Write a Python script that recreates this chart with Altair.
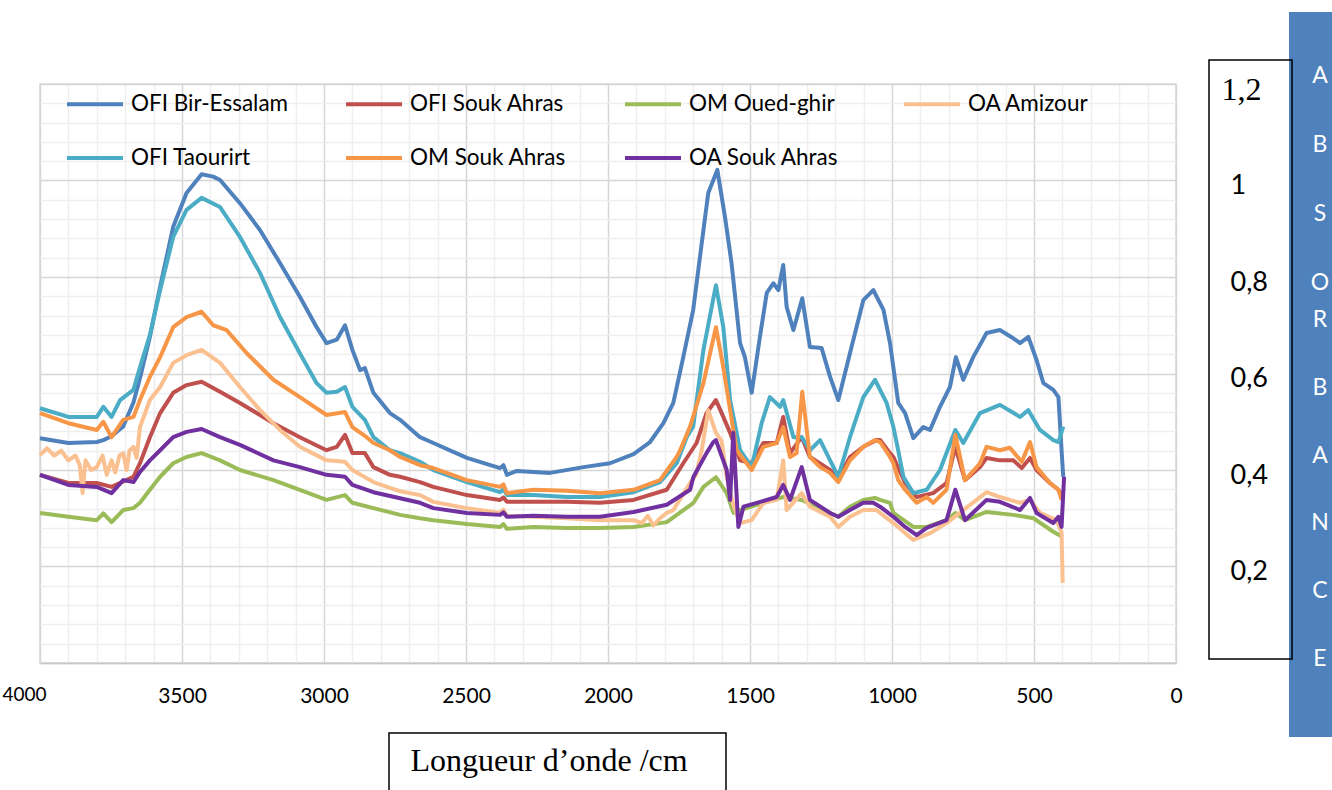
import altair as alt
import pandas as pd

SERIES = ["OFI Bir-Essalam", "OFI Souk Ahras", "OM Oued-ghir", "OA Amizour",
          "OFI Taourirt", "OM Souk Ahras", "OA Souk Ahras"]
COLORS = ["#4F81BD", "#C0504D", "#9BBB59", "#FAC090", "#4BACC6", "#F79646", "#7030A0"]

# (wavenumber cm-1, absorbance)
OFI_BIR_ESSALAM = [
    (4000, 0.466), (3900, 0.456), (3800, 0.458), (3777, 0.462), (3748, 0.47), (3707, 0.49), (3671, 0.54),
    (3648, 0.59), (3613, 0.676), (3577, 0.78), (3531, 0.904), (3484, 0.974), (3431, 1.013), (3390, 1.008),
    (3366, 1.001), (3296, 0.953), (3225, 0.897), (3155, 0.829), (3085, 0.759), (3026, 0.696), (2991, 0.663),
    (2955, 0.670), (2926, 0.70), (2900, 0.649), (2873, 0.607), (2856, 0.611), (2826, 0.56), (2768, 0.518),
    (2732, 0.504), (2662, 0.468), (2615, 0.456), (2497, 0.425), (2380, 0.404), (2368, 0.41), (2356, 0.39),
    (2321, 0.398), (2204, 0.394), (2086, 0.406), (1993, 0.414), (1910, 0.433), (1852, 0.458), (1805, 0.497),
    (1770, 0.539), (1735, 0.634), (1700, 0.732), (1670, 0.870), (1647, 0.974), (1615, 1.022), (1588, 0.924),
    (1565, 0.829), (1535, 0.663), (1518, 0.634), (1494, 0.560), (1465, 0.676), (1441, 0.767), (1418, 0.787),
    (1400, 0.773), (1383, 0.825), (1371, 0.738), (1347, 0.690), (1316, 0.756), (1289, 0.655), (1248, 0.653),
    (1218, 0.593), (1189, 0.545), (1148, 0.642), (1101, 0.752), (1066, 0.773), (1030, 0.732), (1007, 0.663),
    (978, 0.539), (954, 0.518), (925, 0.466), (890, 0.489), (866, 0.483), (831, 0.531), (796, 0.572),
    (775, 0.634), (749, 0.587), (714, 0.634), (667, 0.684), (620, 0.690), (573, 0.673), (549, 0.663),
    (520, 0.676), (491, 0.628), (467, 0.580), (432, 0.566), (414, 0.551), (403, 0.441), (397, 0.386),
]
OFI_SOUK_AHRAS = [
    (4000, 0.39), (3900, 0.373), (3800, 0.373), (3748, 0.365), (3671, 0.386), (3648, 0.414), (3613, 0.468),
    (3577, 0.518), (3531, 0.56), (3484, 0.576), (3431, 0.583), (3366, 0.562), (3296, 0.539), (3178, 0.497),
    (3085, 0.468), (2991, 0.441), (2955, 0.448), (2926, 0.473), (2900, 0.435), (2856, 0.435), (2826, 0.406),
    (2768, 0.39), (2732, 0.386), (2662, 0.375), (2615, 0.365), (2497, 0.348), (2380, 0.338), (2368, 0.343),
    (2356, 0.334), (2263, 0.334), (2145, 0.334), (2028, 0.332), (1910, 0.338), (1793, 0.359), (1735, 0.414),
    (1688, 0.456), (1653, 0.518), (1620, 0.545), (1594, 0.51), (1570, 0.477), (1535, 0.42), (1494, 0.414),
    (1453, 0.456), (1406, 0.456), (1383, 0.51), (1359, 0.435), (1318, 0.468), (1289, 0.427), (1218, 0.40),
    (1189, 0.383), (1148, 0.427), (1101, 0.448), (1054, 0.462), (1042, 0.462), (1007, 0.435), (995, 0.427),
    (954, 0.373), (913, 0.344), (855, 0.352), (808, 0.373), (777, 0.448), (743, 0.379), (690, 0.406),
    (667, 0.425), (620, 0.42), (573, 0.42), (543, 0.404), (514, 0.425), (491, 0.40), (444, 0.373),
    (414, 0.359), (397, 0.344),
]
OM_OUED_GHIR = [
    (4000, 0.311), (3900, 0.303), (3800, 0.296), (3777, 0.31), (3748, 0.292), (3707, 0.317), (3671, 0.321),
    (3648, 0.332), (3613, 0.359), (3577, 0.386), (3531, 0.414), (3484, 0.427), (3431, 0.435), (3366, 0.42),
    (3296, 0.40), (3178, 0.379), (3085, 0.359), (2991, 0.338), (2926, 0.348), (2900, 0.332), (2826, 0.321),
    (2732, 0.307), (2662, 0.30), (2615, 0.296), (2497, 0.288), (2380, 0.282), (2368, 0.288), (2356, 0.278),
    (2263, 0.282), (2145, 0.28), (2028, 0.28), (1910, 0.282), (1793, 0.292), (1699, 0.332), (1664, 0.365),
    (1620, 0.385), (1582, 0.352), (1558, 0.311), (1535, 0.317), (1453, 0.332), (1383, 0.344), (1318, 0.338),
    (1218, 0.311), (1189, 0.303), (1148, 0.324), (1101, 0.338), (1060, 0.342), (1042, 0.338), (1007, 0.332),
    (995, 0.311), (925, 0.282), (878, 0.282), (808, 0.296), (777, 0.311), (743, 0.296), (667, 0.313),
    (573, 0.307), (502, 0.30), (432, 0.272), (399, 0.261),
]
OA_AMIZOUR = [
    (4000, 0.431), (3975, 0.445), (3950, 0.43), (3925, 0.44), (3900, 0.42), (3875, 0.43), (3860, 0.41),
    (3850, 0.352), (3840, 0.42), (3820, 0.40), (3800, 0.406), (3780, 0.43), (3765, 0.39), (3748, 0.42),
    (3735, 0.395), (3720, 0.43), (3707, 0.435), (3695, 0.40), (3685, 0.44), (3671, 0.448), (3660, 0.425),
    (3648, 0.489), (3613, 0.545), (3577, 0.572), (3531, 0.622), (3484, 0.638), (3431, 0.649), (3366, 0.622),
    (3296, 0.572), (3225, 0.524), (3155, 0.483), (3085, 0.448), (2991, 0.42), (2926, 0.417), (2900, 0.40),
    (2826, 0.375), (2768, 0.363), (2732, 0.356), (2662, 0.348), (2615, 0.334), (2497, 0.321), (2380, 0.311),
    (2368, 0.318), (2356, 0.305), (2263, 0.303), (2145, 0.30), (2028, 0.296), (1910, 0.296), (1880, 0.29),
    (1860, 0.305), (1840, 0.285), (1817, 0.30), (1793, 0.311), (1770, 0.317), (1711, 0.373), (1690, 0.39),
    (1670, 0.441), (1647, 0.524), (1620, 0.477), (1600, 0.46), (1582, 0.386), (1560, 0.33), (1535, 0.29),
    (1494, 0.296), (1453, 0.332), (1406, 0.338), (1383, 0.42), (1371, 0.317), (1318, 0.352), (1289, 0.324),
    (1218, 0.303), (1189, 0.282), (1148, 0.303), (1101, 0.317), (1054, 0.317), (1042, 0.311), (995, 0.29),
    (925, 0.255), (866, 0.269), (808, 0.29), (749, 0.317), (667, 0.354), (620, 0.344), (549, 0.332),
    (514, 0.338), (479, 0.311), (420, 0.296), (403, 0.27), (399, 0.166),
]
OFI_TAOURIRT = [
    (4000, 0.528), (3900, 0.51), (3800, 0.51), (3777, 0.531), (3748, 0.51), (3718, 0.545), (3671, 0.566),
    (3648, 0.613), (3613, 0.68), (3577, 0.773), (3531, 0.883), (3484, 0.939), (3431, 0.964), (3366, 0.945),
    (3296, 0.883), (3225, 0.808), (3155, 0.717), (3085, 0.642), (3026, 0.580), (2991, 0.560), (2955, 0.562),
    (2926, 0.572), (2900, 0.531), (2856, 0.504), (2826, 0.468), (2768, 0.441), (2732, 0.435), (2662, 0.417),
    (2615, 0.40), (2497, 0.375), (2380, 0.354), (2368, 0.36), (2356, 0.348), (2263, 0.348), (2145, 0.344),
    (2028, 0.344), (1910, 0.354), (1817, 0.375), (1758, 0.414), (1723, 0.468), (1700, 0.49), (1664, 0.649),
    (1620, 0.783), (1594, 0.696), (1570, 0.545), (1535, 0.441), (1494, 0.406), (1459, 0.497), (1430, 0.551),
    (1394, 0.531), (1383, 0.545), (1347, 0.468), (1318, 0.468), (1289, 0.441), (1253, 0.462), (1218, 0.42),
    (1189, 0.386), (1148, 0.468), (1101, 0.551), (1060, 0.587), (1019, 0.539), (995, 0.489), (978, 0.44),
    (960, 0.386), (925, 0.352), (878, 0.359), (831, 0.40), (777, 0.483), (749, 0.456), (690, 0.518),
    (620, 0.535), (549, 0.51), (520, 0.524), (479, 0.483), (432, 0.462), (414, 0.458), (397, 0.49),
]
OM_SOUK_AHRAS = [
    (4000, 0.518), (3900, 0.497), (3800, 0.483), (3777, 0.50), (3748, 0.468), (3707, 0.504), (3671, 0.51),
    (3648, 0.545), (3613, 0.593), (3577, 0.634), (3531, 0.696), (3484, 0.717), (3431, 0.728), (3390, 0.70),
    (3343, 0.690), (3272, 0.642), (3178, 0.587), (3085, 0.551), (2991, 0.514), (2926, 0.52), (2900, 0.489),
    (2850, 0.468), (2826, 0.456), (2768, 0.441), (2732, 0.427), (2662, 0.41), (2615, 0.404), (2497, 0.379),
    (2380, 0.365), (2368, 0.37), (2356, 0.352), (2263, 0.359), (2145, 0.357), (2028, 0.352), (1910, 0.359),
    (1817, 0.379), (1758, 0.427), (1746, 0.441), (1711, 0.49), (1664, 0.580), (1620, 0.696), (1594, 0.613),
    (1570, 0.524), (1547, 0.441), (1494, 0.40), (1453, 0.448), (1406, 0.456), (1383, 0.489), (1359, 0.427),
    (1336, 0.435), (1316, 0.562), (1289, 0.427), (1253, 0.406), (1218, 0.394), (1189, 0.375), (1148, 0.42),
    (1101, 0.448), (1060, 0.462), (1042, 0.458), (1007, 0.427), (995, 0.414), (978, 0.379), (954, 0.359),
    (913, 0.332), (878, 0.344), (855, 0.332), (808, 0.359), (777, 0.473), (743, 0.379), (690, 0.414),
    (667, 0.448), (620, 0.441), (585, 0.446), (543, 0.417), (514, 0.458), (491, 0.406), (444, 0.373),
    (414, 0.359), (403, 0.338),
]
OA_SOUK_AHRAS = [
    (4000, 0.39), (3900, 0.369), (3800, 0.365), (3748, 0.352), (3707, 0.379), (3671, 0.375), (3648, 0.396),
    (3613, 0.42), (3577, 0.441), (3531, 0.468), (3484, 0.479), (3431, 0.485), (3366, 0.468), (3296, 0.452),
    (3178, 0.42), (3085, 0.406), (2991, 0.39), (2926, 0.386), (2900, 0.369), (2826, 0.354), (2662, 0.332),
    (2615, 0.321), (2497, 0.311), (2380, 0.307), (2368, 0.312), (2356, 0.303), (2263, 0.305), (2145, 0.303),
    (2028, 0.303), (1910, 0.313), (1793, 0.328), (1711, 0.359), (1699, 0.386), (1653, 0.435), (1629, 0.458),
    (1620, 0.462), (1582, 0.40), (1570, 0.338), (1559, 0.477), (1541, 0.282), (1523, 0.324), (1476, 0.332),
    (1406, 0.344), (1383, 0.369), (1359, 0.338), (1318, 0.406), (1289, 0.338), (1218, 0.311), (1189, 0.303),
    (1148, 0.317), (1101, 0.332), (1066, 0.332), (1042, 0.324), (995, 0.303), (954, 0.282), (913, 0.265),
    (878, 0.28), (808, 0.296), (777, 0.359), (743, 0.296), (667, 0.338), (620, 0.334), (549, 0.317),
    (514, 0.342), (491, 0.311), (432, 0.29), (414, 0.303), (403, 0.282), (394, 0.386),
]

X_TICKS = list(range(0, 4001, 100))
Y_TICKS = [round(i * 0.04, 2) for i in range(31)]
X_TITLE = "Longueur d’onde /cm"
SIDE_LETTERS_1 = "A\nB\nS\nO"
SIDE_LETTERS_2 = "R\nB\nA\nN\nC\nE"

rows = []
for name, pts in zip(SERIES, [OFI_BIR_ESSALAM, OFI_SOUK_AHRAS, OM_OUED_GHIR, OA_AMIZOUR,
                              OFI_TAOURIRT, OM_SOUK_AHRAS, OA_SOUK_AHRAS]):
    for wn, a in pts:
        rows.append({"series": name, "wn": wn, "abs": a})
df = pd.DataFrame(rows)
one = pd.DataFrame({"k": [0]})

FONT = "Lato"

x_axis = alt.Axis(
    values=X_TICKS, format="d", title=None,
    labelExpr="datum.value % 500 === 0 ? datum.label : ''",
    labelAlign=alt.expr("datum.value == 4000 ? 'right' : 'center'"),
    labelOffset={"condition": {"test": "datum.value == 4000", "value": 6}, "value": 0},
    labelFontSize={"condition": {"test": "datum.value == 4000", "value": 19}, "value": 21},
    labelFont=FONT, labelColor="black", labelPadding=22,
    ticks=False, domain=True, domainColor="#c8c8c8", domainWidth=1.5,
    grid=True, gridWidth=1.5,
    gridColor={"condition": {"test": "datum.value % 500 === 0", "value": "#d6d6d6"}, "value": "#efefef"},
    labelOverlap=False,
)
y_axis = alt.Axis(
    values=Y_TICKS, title=None, orient="right",
    labelExpr=("abs(datum.value*5 - round(datum.value*5)) < 0.001 && datum.value > 0.01 ? "
               "(abs(datum.value - 1) < 0.001 ? '1' : replace(format(datum.value, '.1f'), '.', ',')) : ''"),
    labelFont={"condition": {"test": "datum.value > 1.1", "value": "Liberation Serif"}, "value": FONT},
    labelFontSize={"condition": {"test": "datum.value > 1.1", "value": 32}, "value": 27},
    labelColor="black", labelAlign="left", labelBaseline="middle",
    labelPadding={"condition": {"test": "datum.value > 1.1", "value": 45}, "value": 54},
    labelOffset=5, labelOverlap=False,
    ticks=False, domain=False, grid=True, gridWidth=1.5,
    gridColor={"condition": {"test": "abs(datum.value*5 - round(datum.value*5)) < 0.001",
                             "value": "#d6d6d6"}, "value": "#efefef"},
)

lines = alt.Chart(df).mark_line(strokeWidth=4, strokeJoin="round").encode(
    x=alt.X("wn:Q", scale=alt.Scale(domain=[0, 4000], reverse=True, nice=False, zero=False), axis=x_axis),
    y=alt.Y("abs:Q", scale=alt.Scale(domain=[0, 1.2], nice=False), axis=y_axis),
    color=alt.Color("series:N", sort=SERIES, scale=alt.Scale(domain=SERIES, range=COLORS),
                    legend=alt.Legend(title=None, orient="none", legendX=25, legendY=-10,
                                      direction="horizontal", columns=4, symbolType="stroke",
                                      symbolSize=3136, symbolStrokeWidth=4, labelFont=FONT,
                                      labelFontSize=22.5, labelColor="black", labelOffset=6,
                                      columnPadding=49, rowPadding=12, gridAlign="all",
                                      labelLimit=400)),
)

blue_bar = alt.Chart(one).mark_rect(fill="#4F81BD").encode(
    x=alt.value(1249), x2=alt.value(1295), y=alt.value(-72), y2=alt.value(653))
label_box = alt.Chart(one).mark_rect(fill="white", fillOpacity=0, stroke="black", strokeWidth=1.5).encode(
    x=alt.value(1169), x2=alt.value(1252), y=alt.value(-24), y2=alt.value(575))
letters1 = alt.Chart(one).mark_text(font=FONT, fontSize=23, color="white", lineBreak="\n",
                                    lineHeight=69, align="center", baseline="middle").encode(
    x=alt.value(1280), y=alt.value(-8), text=alt.value(SIDE_LETTERS_1))
letters2 = alt.Chart(one).mark_text(font=FONT, fontSize=23, color="white", lineBreak="\n",
                                    lineHeight=67.8, align="center", baseline="middle").encode(
    x=alt.value(1280), y=alt.value(236), text=alt.value(SIDE_LETTERS_2))
title_box = alt.Chart(one).mark_rect(fill="white", fillOpacity=0, stroke="black", strokeWidth=1.5).encode(
    x=alt.value(349), x2=alt.value(686), y=alt.value(649), y2=alt.value(720))
title_text = alt.Chart(one).mark_text(font="Liberation Serif", fontSize=32, color="black",
                                      align="center", baseline="middle").encode(
    x=alt.value(509), y=alt.value(677), text=alt.value(X_TITLE))

chart = alt.layer(blue_bar, label_box, lines, letters1, letters2, title_box, title_text).properties(
    width=1136, height=579,
    padding={"left": 40, "top": 84, "right": 156, "bottom": 127},
    autosize=alt.AutoSizeParams(type="none"),
    background="white",
).configure_view(stroke="#d6d6d6", strokeWidth=1.5)

chart.save("out.html", embed_options={"renderer": "svg", "actions": False})
